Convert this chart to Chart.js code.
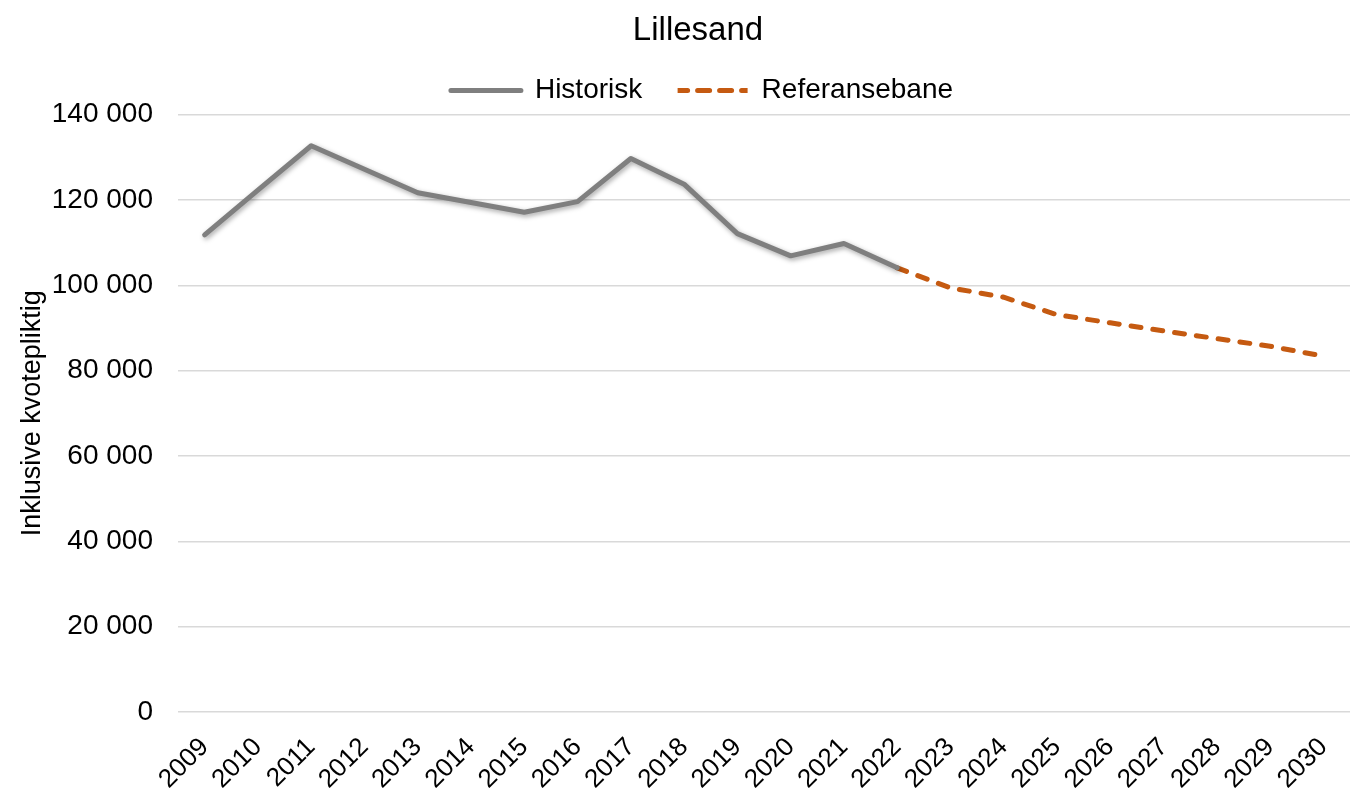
<!DOCTYPE html>
<html lang="no">
<head>
<meta charset="utf-8">
<title>Lillesand</title>
<script src="https://cdn.jsdelivr.net/npm/chart.js@4.4.1/dist/chart.umd.min.js"></script>
<style>
  html, body { margin: 0; padding: 0; background: #fff; }
  #wrap { width: 1351px; height: 792px; position: relative; }
</style>
</head>
<body>
<div id="wrap"><canvas id="grafico"></canvas></div>
<script>
const aar = ["2009", "2010", "2011", "2012", "2013", "2014", "2015", "2016", "2017", "2018", "2019",
  "2020", "2021", "2022", "2023", "2024", "2025", "2026", "2027", "2028", "2029", "2030"];
const historisk = [111800, 122300, 132700, 127200, 121700, 119400, 117100, 119600, 129700, 123700, 112100,
  106900, 109800, 104100, null, null, null, null, null, null, null, null];
const referansebane = [null, null, null, null, null, null, null, null, null, null, null,
  null, null, 104100, 99400, 97200, 93100, 91200, 89300, 87500, 85700, 83400];
const yTicks = [0, 20000, 40000, 60000, 80000, 100000, 120000, 140000];

const FONT = "'Liberation Sans', Arial, sans-serif";
Chart.defaults.font.family = FONT;
Chart.defaults.color = "#000";

function tusen(v) {
  return String(v).replace(/\B(?=(\d{3})+(?!\d))/g, " ");
}

// skygge på den historiske linja
const skygge = {
  id: "skygge",
  beforeDatasetDraw(chart, args) {
    if (args.index !== 0) return;
    const ctx = chart.ctx;
    ctx.save();
    ctx.shadowColor = "rgba(0,0,0,0.35)";
    ctx.shadowBlur = 5;
    ctx.shadowOffsetX = 1.5;
    ctx.shadowOffsetY = 2;
  },
  afterDatasetDraw(chart, args) {
    if (args.index !== 0) return;
    chart.ctx.restore();
  },
};

// tittel og forklaring står litt til høyre for midten i originalen
const flytt = {
  id: "flytt",
  afterLayout(chart) {
    chart.titleBlock.left += 23;
    chart.titleBlock.right += 23;
    chart.legend.left += 27;
    chart.legend.right += 27;
  },
};

new Chart(document.getElementById("grafico"), {
  type: "line",
  data: {
    labels: aar,
    datasets: [
      {
        label: "Historisk",
        data: historisk,
        borderColor: "#7F7F7F",
        backgroundColor: "#7F7F7F",
        borderWidth: 5,
        borderJoinStyle: "round",
        borderCapStyle: "round",
        pointRadius: 0,
        tension: 0,
      },
      {
        label: "Referansebane",
        data: referansebane,
        borderColor: "#C55A11",
        backgroundColor: "#C55A11",
        borderWidth: 5,
        borderDash: [10, 12],
        borderCapStyle: "round",
        pointRadius: 0,
        tension: 0,
      },
    ],
  },
  options: {
    responsive: true,
    maintainAspectRatio: false,
    animation: false,
    layout: { padding: { top: 4, right: 1, left: 0, bottom: 0 } },
    plugins: {
      title: {
        display: true,
        text: "Lillesand",
        font: { size: 33, weight: "normal" },
        color: "#000",
        padding: { top: 7, bottom: 14 },
      },
      legend: {
        position: "top",
        labels: {
          boxWidth: 70,
          boxHeight: 0,
          padding: 12,
          font: { size: 28 },
          color: "#000",
          generateLabels(chart) {
            const items = Chart.defaults.plugins.legend.labels.generateLabels(chart);
            items.forEach((it, i) => {
              if (i === 0) it.text = it.text + "   ";
              it.lineWidth = 5;
              it.lineCap = "round";
            });
            return items;
          },
        },
      },
      tooltip: { enabled: false },
    },
    scales: {
      x: {
        offset: true,
        grid: { display: false, drawTicks: false },
        border: { display: false },
        ticks: {
          font: { size: 26 },
          color: "#000",
          maxRotation: 45,
          minRotation: 45,
          autoSkip: false,
          padding: 20,
        },
        afterFit(scale) {
          scale.height = 80;
          scale.paddingLeft = 0;
          scale.paddingRight = 0;
        },
      },
      y: {
        min: 0,
        max: 140000,
        afterBuildTicks(scale) { scale.ticks = yTicks.map((v) => ({ value: v })); },
        grid: { color: "#D9D9D9", lineWidth: 1.5, drawTicks: false },
        border: { display: false },
        ticks: {
          font: { size: 28 },
          color: "#000",
          padding: 25,
          callback: (v) => tusen(v),
        },
        title: {
          display: true,
          text: "Inklusive kvotepliktig",
          font: { size: 27 },
          color: "#000",
          padding: { top: 16, bottom: 0 },
        },
        afterFit(scale) { scale.width = 178; },
      },
    },
  },
  plugins: [skygge, flytt],
});
</script>
</body>
</html>
